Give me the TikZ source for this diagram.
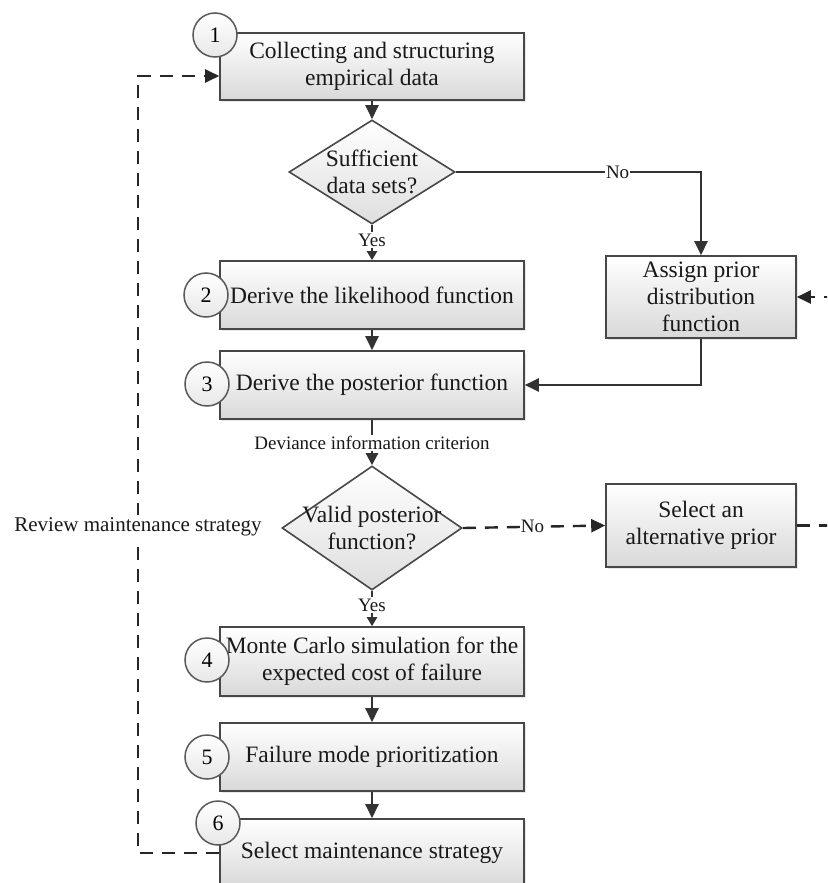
\documentclass[tikz,border=0pt]{standalone}
\usepackage{fontspec}
\setmainfont{Liberation Serif}
\usetikzlibrary{shapes.geometric, arrows.meta, shadows}

\tikzset{
  stepbox/.style={rectangle, draw=black!72, line width=1.6pt, top color=white, bottom color=black!15,
    minimum width=304pt, minimum height=68pt, align=center, inner sep=2pt,
    font=\fontsize{23.5}{27}\selectfont, text=black!90,
    drop shadow={shadow xshift=2pt, shadow yshift=-2pt, fill=black!18}},
  sidebox/.style={stepbox, minimum width=190pt, minimum height=83pt},
  decision/.style={diamond, draw=black!72, line width=1.6pt, top color=white, bottom color=black!13,
    inner sep=0pt},
  qtext/.style={align=center, font=\fontsize{23.5}{27}\selectfont, text=black!90},
  num/.style={circle, draw=black!65, line width=1.5pt, top color=white, bottom color=black!9,
    minimum size=44pt, inner sep=0pt, font=\fontsize{22}{24}\selectfont},
  lbl/.style={inner sep=1pt, font=\fontsize{19}{22}\selectfont, text=black!90},
  flow/.style={draw=black!80, line width=2.4pt, -{Triangle[length=14pt,width=13pt]}},
  small/.style={draw=black!80, line width=2.2pt, -{Triangle[length=9pt,width=10pt]}},
  dline/.style={draw=black!85, line width=2.4pt, dash pattern=on 13pt off 9pt,
    -{Triangle[length=14pt,width=13pt]}}
}

\begin{document}
\begin{tikzpicture}[x=1pt, y=-1pt]

\clip (0,0) rectangle (827,883);

% main column
\node[stepbox, minimum height=67pt] (box1) at (372,66.5) {Collecting and structuring\\empirical data};
\node[decision, minimum width=166pt, minimum height=104pt] (d1) at (372,172) {};
\node[qtext] (q1) at (d1) {Sufficient\\data sets?};
\node[lbl] (yes1) at (372,240) {Yes};
\node[stepbox] (box2) at (372,295) {Derive the likelihood function};
\node[stepbox] (box3) at (372,385) {Derive the posterior function};
\node[lbl] (dic) at (372,443) {Deviance information criterion};
\node[decision, minimum width=180pt, minimum height=124pt] (d2) at (372,528) {};
\node[qtext] (q2) at (d2) {Valid posterior\\function?};
\node[lbl] (yes2) at (372,605) {Yes};
\node[stepbox, minimum height=69pt] (box4) at (372,661.5) {Monte Carlo simulation for the\\expected cost of failure};
\node[stepbox] (box5) at (372,757) {Failure mode prioritization};
\node[stepbox] (box6) at (372,853) {Select maintenance strategy};

% right column
\node[sidebox, minimum height=82pt] (assign) at (701,297) {Assign prior\\distribution\\function};
\node[sidebox] (select) at (701,525.5) {Select an\\alternative prior};

\draw[flow] (box1) -- (d1);
\draw[draw=black!80, line width=2.2pt] (d1.south) -- (yes1.north);
\draw[small] (yes1.south) -- (box2.north);
\draw[flow] (d1.east) -| node[pos=0.33, lbl, fill=white] {No} (assign.north);
\draw[flow] (box2) -- (box3);
\draw[flow] (assign.south) |- (box3.east);
\draw[draw=black!80, line width=2.2pt] (box3.south) -- (dic.north);
\draw[flow, -{Triangle[length=12pt,width=12pt]}] (dic.south) -- (d2.north);
\draw[dline] (d2.east) -- node[pos=0.49, lbl, fill=white] {No} (select.west);
\draw[dline] (select.east) -- ++(60,0) |- (assign.east);
\draw[draw=black!80, line width=2.2pt] (d2.south) -- (yes2.north);
\draw[small] (yes2.south) -- (box4.north);
\draw[flow] (box4) -- (box5);
\draw[flow] (box5) -- (box6);

% feedback loop
\coordinate (rv1) at (138,853);
\coordinate (rv2) at (138,76);
\draw[dline] (box6.west) -- (rv1) -- node[pos=0.42, fill=white, inner sep=2pt, text=black!90, font=\fontsize{21}{24}\selectfont] {Review maintenance strategy} (rv2) -- ([yshift=-9.5pt]box1.west);

\foreach \n/\x/\y in {1/215/35, 2/206/295, 3/207/384, 4/207/660, 5/207/757, 6/218/823}{
  \node[num] (c\n) at (\x,\y) {\n};
}

\end{tikzpicture}
\end{document}
